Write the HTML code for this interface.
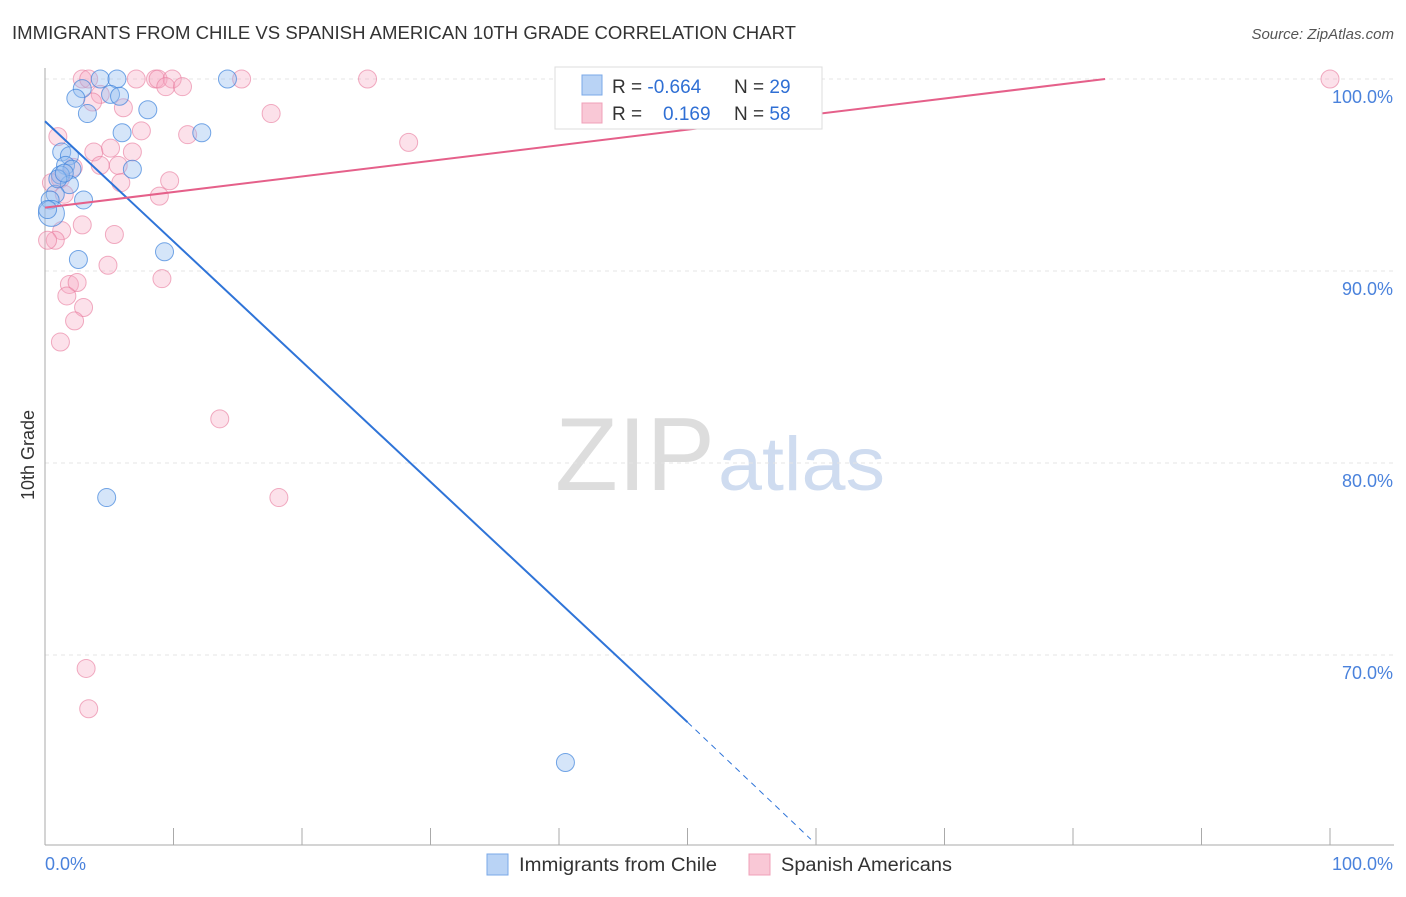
<!DOCTYPE html>
<html><head><meta charset="utf-8">
<style>
body{margin:0;background:#fff;font-family:"Liberation Sans",sans-serif;}
svg text{font-family:"Liberation Sans",sans-serif;}
</style></head>
<body>
<svg id="chart" width="1406" height="892" xmlns="http://www.w3.org/2000/svg">
<text x="12" y="39" font-size="18" fill="#333" textLength="784" lengthAdjust="spacingAndGlyphs">IMMIGRANTS FROM CHILE VS SPANISH AMERICAN 10TH GRADE CORRELATION CHART</text>
<text x="1394" y="39" font-size="15" fill="#555" font-style="italic" text-anchor="end">Source: ZipAtlas.com</text>
<text x="555" y="490" font-size="104" fill="#ddd" textLength="160" lengthAdjust="spacingAndGlyphs" font-family="Liberation Serif">ZIP</text>
<text x="718" y="490" font-size="76" fill="#cfdcf0" textLength="167" lengthAdjust="spacingAndGlyphs">atlas</text>
<text transform="translate(34,455) rotate(-90)" font-size="18" fill="#333" text-anchor="middle">10th Grade</text>
<g id="grid"></g>
<g id="axes"></g>
<g id="pts"></g>
<g id="lines"></g>
<g>
<rect x="555" y="67" width="267" height="62" fill="#fff" stroke="#ddd"/>
<rect x="582" y="75" width="20" height="20" fill="#b9d3f5" stroke="#7aa8e8"/>
<rect x="582" y="103" width="20" height="20" fill="#f9c8d6" stroke="#f0a0b8"/>
<text x="612" y="93" font-size="19" fill="#333">R = <tspan fill="#2f6fd4">-0.664</tspan></text>
<text x="734" y="93" font-size="19" fill="#333">N = <tspan fill="#2f6fd4">29</tspan></text>
<text x="612" y="120" font-size="19" fill="#333">R = </text>
<text x="663" y="120" font-size="19" fill="#2f6fd4">0.169</text>
<text x="734" y="120" font-size="19" fill="#333">N = <tspan fill="#2f6fd4">58</tspan></text>
</g>
<g>
<rect x="487" y="854" width="21" height="21" fill="#b9d3f5" stroke="#7aa8e8"/>
<text x="519" y="871" font-size="19" fill="#333" textLength="198" lengthAdjust="spacingAndGlyphs">Immigrants from Chile</text>
<rect x="749" y="854" width="21" height="21" fill="#f9c8d6" stroke="#f0a0b8"/>
<text x="781" y="871" font-size="19" fill="#333" textLength="171" lengthAdjust="spacingAndGlyphs">Spanish Americans</text>
</g>
</svg>
<script>
const blueX=[4.3,5.6,14.2,2.9,2.4,5.1,5.8,3.3,8.0,6.0,12.2,1.3,1.9,1.6,2.1,1.2,1.9,0.8,0.4,3.0,6.8,9.3,2.6,4.8,40.5,0.5,1.0,1.5,0.2];
const blueY=[100,100,100,99.5,99.0,99.2,99.1,98.2,98.4,97.2,97.2,96.2,96.0,95.5,95.3,95.0,94.5,94.0,93.7,93.7,95.3,91.0,90.6,78.2,64.4,93.0,94.8,95.1,93.2];
const pinkX=[2.9,3.4,7.1,8.6,8.8,9.9,15.3,25.1,100,9.4,10.7,4.3,3.7,6.1,17.6,7.5,11.1,28.3,1.0,3.8,6.8,5.1,5.7,4.3,2.2,9.7,5.9,0.5,1.2,8.9,1.5,2.9,5.4,1.3,0.8,0.2,4.9,9.1,1.9,2.5,1.7,3.0,2.3,1.2,13.6,18.2,3.2,3.4];
const pinkY=[100,100,100,100,100,100,100,100,100,99.6,99.6,99.2,98.8,98.5,98.2,97.3,97.1,96.7,97.0,96.2,96.2,96.4,95.5,95.5,95.4,94.7,94.6,94.6,94.8,93.9,94.0,92.4,91.9,92.1,91.6,91.6,90.3,89.6,89.3,89.4,88.7,88.1,87.4,86.3,82.3,78.2,69.3,67.2];
const yTicks=[100,90,80,70];
const xTickLabels=["0.0%","100.0%"];
const blueLine=[[0,97.8],[50,66.5]];
const blueDash=[[50,66.5],[59.6,60.4]];
const pinkLine=[[0,93.3],[82.5,100]];
const X=v=>45+v*12.85, Y=v=>79+(100-v)*19.2;
const NS="http://www.w3.org/2000/svg";
function mk(tag,attrs,parent){const e=document.createElementNS(NS,tag);for(const k in attrs)e.setAttribute(k,attrs[k]);document.getElementById(parent).appendChild(e);return e;}
yTicks.forEach(t=>{
 const l=mk('line',{x1:45,x2:1394,y1:Y(t),y2:Y(t),stroke:'#e4e4e4','stroke-dasharray':'4,4'},'grid');
 
 
 const tx=mk('text',{x:1393,y:Y(t)+24,'font-size':18,fill:'#4a82dc','text-anchor':'end'},'grid');
 tx.textContent=t.toFixed(1)+'%';
 
 
});
const ax=mk('line',{x1:45,x2:45,y1:68,y2:845,stroke:'#aaa'},'axes');


const bx=mk('line',{x1:45,x2:1394,y1:845,y2:845,stroke:'#aaa'},'axes');


for(let i=1;i<=10;i++){const t=mk('line',{x1:X(i*10),x2:X(i*10),y1:828,y2:845,stroke:'#aaa'},'axes');
 
 }
const xl0=mk('text',{x:45,y:870,'font-size':18,fill:'#4a82dc'},'axes');xl0.textContent=xTickLabels[0];


const xl1=mk('text',{x:1393,y:870,'font-size':18,fill:'#4a82dc','text-anchor':'end'},'axes');xl1.textContent=xTickLabels[1];


pinkX.forEach((v,i)=>{const c=mk('circle',{cx:X(v),cy:Y(pinkY[i]),r:9,fill:'rgba(246,170,195,0.35)',stroke:'rgba(232,120,155,0.6)'},'pts');
 
 });
blueX.forEach((v,i)=>{const c=mk('circle',{cx:X(v),cy:Y(blueY[i]),r:i==25?13:9,fill:'rgba(150,190,240,0.4)',stroke:'rgba(60,130,220,0.7)'},'pts');
 
 });
const bl=mk('line',{x1:X(blueLine[0][0]),y1:Y(blueLine[0][1]),x2:X(blueLine[1][0]),y2:Y(blueLine[1][1]),stroke:'#2f74d8','stroke-width':2},'lines');


const bd=mk('line',{x1:X(blueDash[0][0]),y1:Y(blueDash[0][1]),x2:X(blueDash[1][0]),y2:Y(blueDash[1][1]),stroke:'#2f74d8','stroke-width':1,'stroke-dasharray':'6,5'},'lines');


const pl=mk('line',{x1:X(pinkLine[0][0]),y1:Y(pinkLine[0][1]),x2:X(pinkLine[1][0]),y2:Y(pinkLine[1][1]),stroke:'#e5608a','stroke-width':2},'lines');


</script>
</body></html>
